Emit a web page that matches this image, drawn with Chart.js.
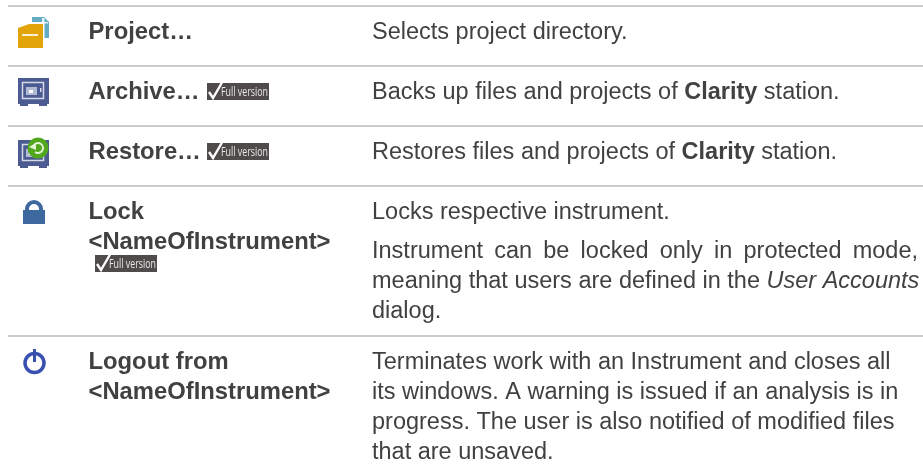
<!DOCTYPE html>
<html>
<head>
<meta charset="utf-8">
<style>
  html, body { margin: 0; padding: 0; background: #fff; }
  canvas { display: block; }
</style>
<script src="https://cdn.jsdelivr.net/npm/chart.js@4"></script>
</head>
<body>
<canvas id="chart" width="923" height="471"></canvas>
<script>
// table content, one entry per row
const rowEdges = [6, 66, 126, 186, 336];
const commands = [
  ["Project…"],
  ["Archive…"],
  ["Restore…"],
  ["Lock", "<NameOfInstrument>"],
  ["Logout from", "<NameOfInstrument>"],
];
const descriptions = [
  ["Selects project directory."],
  ["Backs up files and projects of **Clarity** station."],
  ["Restores files and projects of **Clarity** station."],
  ["Locks respective instrument.", "", "Instrument can be locked only in protected mode,", "meaning that users are defined in the *User Accounts*", "dialog."],
  ["Terminates work with an Instrument and closes all", "its windows. A warning is issued if an analysis is in", "progress. The user is also notified of modified files", "that are unsaved."],
];
const fullVersionRows = [1, 2, 3];
const badgeLabel = "Full version";

const font = '"Liberation Sans"';
const textColor = "#414141";

const parseRuns = (line) =>
  line.split(/(\*\*.+?\*\*|\*.+?\*)/).filter(Boolean).map((part) => {
    if (part.startsWith("**")) return { text: part.slice(2, -2), style: "bold " };
    if (part.startsWith("*")) return { text: part.slice(1, -1), style: "italic " };
    return { text: part, style: "" };
  });

const drawLine = (ctx, line, x, y, size, justifyTo) => {
  const runs = parseRuns(line);
  ctx.wordSpacing = "0px";
  if (justifyTo) {
    ctx.font = size + "px " + font;
    const gaps = line.split(" ").length - 1;
    ctx.wordSpacing = (justifyTo - x - ctx.measureText(line).width) / gaps + "px";
  }
  runs.forEach((run) => {
    ctx.font = run.style + size + "px " + font;
    ctx.fillText(run.text, x, y);
    x += ctx.measureText(run.text).width;
  });
  ctx.wordSpacing = "0px";
};

const drawBadge = (ctx, x, y) => {
  ctx.fillStyle = "#4f4b4b";
  ctx.fillRect(x, y, 62, 17);
  ctx.strokeStyle = "#fff";
  ctx.lineWidth = 2.4;
  ctx.beginPath();
  ctx.moveTo(x + 2, y + 9);
  ctx.lineTo(x + 6, y + 15);
  ctx.lineTo(x + 15, y - 0.5);
  ctx.stroke();
  ctx.fillStyle = "#e8e8e8";
  ctx.font = '12px "Open Sans"';
  ctx.fillText(badgeLabel, x + 14, y + 13, 47);
};

const drawFolder = (ctx, x, y) => {
  ctx.fillStyle = "#62acc6";
  ctx.beginPath();
  ctx.moveTo(x + 14, y);
  ctx.lineTo(x + 26, y);
  ctx.lineTo(x + 31, y + 5);
  ctx.lineTo(x + 31, y + 21);
  ctx.lineTo(x + 14, y + 21);
  ctx.fill();
  ctx.fillStyle = "#e4f2f6";
  ctx.fillRect(x + 24, y + 1, 2.5, 5);
  ctx.fillRect(x + 24, y + 5, 6, 1.5);
  // white gap between folder and sheet
  ctx.fillStyle = "#fff";
  ctx.fillRect(x + 11, y + 5, 15, 2);
  ctx.fillRect(x + 25, y + 6, 1.5, 16);
  ctx.fillStyle = "#e2a409";
  ctx.beginPath();
  ctx.moveTo(x, y + 11);
  ctx.lineTo(x + 11, y + 7);
  ctx.lineTo(x + 25, y + 7);
  ctx.lineTo(x + 25, y + 31);
  ctx.lineTo(x, y + 31);
  ctx.fill();
  ctx.fillStyle = "#fbf0d0";
  ctx.fillRect(x + 4, y + 17, 16, 2);
};

const drawSafe = (ctx, x, y) => {
  ctx.fillStyle = "#4c5b92";
  ctx.fillRect(x, y, 31, 26);
  ctx.fillRect(x + 2, y + 26, 8, 2);
  ctx.fillRect(x + 21, y + 26, 8, 2);
  ctx.strokeStyle = "#d5d9e8";
  ctx.lineWidth = 1.5;
  ctx.strokeRect(x + 4.5, y + 4.5, 21, 16);
  ctx.fillStyle = "#b3bbd4";
  ctx.fillRect(x + 8, y + 9, 11, 8);
  ctx.fillStyle = "#fff";
  ctx.fillRect(x + 11, y + 12, 4, 3);
  ctx.fillStyle = "#d5d9e8";
  ctx.fillRect(x + 22, y + 10, 1.5, 4);
};

const drawRestoreBadge = (ctx, cx, cy) => {
  ctx.fillStyle = "#52a81c";
  ctx.beginPath();
  ctx.arc(cx, cy, 10.5, 0, Math.PI * 2);
  ctx.fill();
  ctx.strokeStyle = "#e4f2d8";
  ctx.lineWidth = 2;
  ctx.beginPath();
  ctx.arc(cx, cy, 5, -Math.PI * 0.9, Math.PI * 0.7);
  ctx.stroke();
  ctx.fillStyle = "#e4f2d8";
  ctx.beginPath();
  ctx.moveTo(cx - 9, cy - 1);
  ctx.lineTo(cx - 2, cy - 5);
  ctx.lineTo(cx - 2, cy + 2);
  ctx.fill();
};

const drawLock = (ctx, x, y) => {
  ctx.fillStyle = "#3d699e";
  ctx.fillRect(x, y + 9, 22, 14);
  ctx.strokeStyle = "#3d699e";
  ctx.lineWidth = 4;
  ctx.beginPath();
  ctx.moveTo(x + 4, y + 10);
  ctx.lineTo(x + 4, y + 8);
  ctx.arc(x + 11, y + 8, 7, Math.PI, 0);
  ctx.lineTo(x + 18, y + 10);
  ctx.stroke();
};

const drawPower = (ctx, cx, cy) => {
  ctx.strokeStyle = "#3850b0";
  ctx.lineWidth = 3.5;
  ctx.beginPath();
  ctx.arc(cx, cy, 9.5, 0, Math.PI * 2);
  ctx.stroke();
  ctx.lineWidth = 3;
  ctx.beginPath();
  ctx.moveTo(cx, cy - 14);
  ctx.lineTo(cx, cy - 1);
  ctx.stroke();
};

const tablePlugin = {
  id: "tableText",
  afterDraw(chart) {
    const { ctx, scales } = chart;
    const px = (v) => scales.x.getPixelForValue(v);
    const py = (v) => scales.y.getPixelForValue(v);
    ctx.save();
    ctx.textBaseline = "alphabetic";
    rowEdges.forEach((edge, r) => {
      const base = py(edge + 33);
      ctx.fillStyle = textColor;
      commands[r].forEach((line, i) => {
        drawLine(ctx, "**" + line + "**", px(88.5), base + i * 30, 23.8);
      });
      let y = base;
      descriptions[r].forEach((line) => {
        if (line === "") { y += 9; return; }
        ctx.fillStyle = textColor;
        drawLine(ctx, line, px(372), y, 23.5, line.startsWith("Instrument can") ? px(918) : null);
        y += 30;
      });
    });
    fullVersionRows.forEach((r) => {
      if (commands[r].length > 1) drawBadge(ctx, px(95), py(rowEdges[r] + 69));
      else drawBadge(ctx, px(207), py(rowEdges[r] + 17));
    });
    // the icons are soft in the original
    ctx.filter = "blur(0.5px)";
    drawFolder(ctx, px(18), py(17));
    drawSafe(ctx, px(18), py(78));
    drawSafe(ctx, px(18), py(140));
    drawRestoreBadge(ctx, px(38), py(148));
    drawLock(ctx, px(23), py(201));
    drawPower(ctx, px(34.5), py(363));
    ctx.restore();
  },
};

new Chart(document.getElementById("chart"), {
  type: "scatter",
  data: {
    datasets: [
      {
        data: rowEdges.map((edge) => ({ x: 8, y: edge })),
        pointRadius: 0,
      },
    ],
  },
  options: {
    responsive: false,
    animation: false,
    layout: { padding: { left: 8 } },
    plugins: { legend: { display: false }, tooltip: { enabled: false } },
    scales: {
      x: { display: false, min: 8, max: 923 },
      y: {
        min: 0,
        max: 471,
        reverse: true,
        afterBuildTicks: (scale) => {
          scale.ticks = rowEdges.map((value) => ({ value }));
        },
        afterFit: (scale) => {
          scale.width = 0;
        },
        ticks: { display: false },
        border: { display: false },
        grid: { color: "#cccccc", lineWidth: 2, drawTicks: false },
      },
    },
  },
  plugins: [tablePlugin],
});
</script>
</body>
</html>
